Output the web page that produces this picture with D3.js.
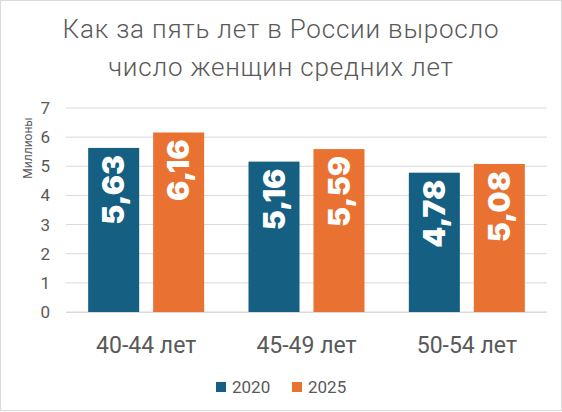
<!DOCTYPE html>
<html><head><meta charset="utf-8">
<script src="https://cdn.jsdelivr.net/npm/d3@7"></script>
<style>body{margin:0;background:#fff}svg{display:block}</style>
</head><body>
<svg id="c" width="562" height="412"></svg>
<script>
const titleLines = ["Как за пять лет в России выросло", "число женщин средних лет"];
const categories = ["40-44 лет", "45-49 лет", "50-54 лет"];
const seriesNames = ["2020", "2025"];
const values2020 = [5.63, 5.16, 4.78];
const values2025 = [6.16, 5.59, 5.08];
const yTicks = [0, 1, 2, 3, 4, 5, 6, 7];
const yTitle = "Миллионы";
const colors = ["#156082", "#E97132"];

const series = [values2020, values2025];
const svg = d3.select("#c");
const font = "Roboto, 'Open Sans', sans-serif";
const gray = "#595959";

svg.append("rect").attr("x",0.5).attr("y",0.5).attr("width",561).attr("height",410)
  .attr("fill","#fff").attr("stroke","#d9d9d9");

svg.append("g").selectAll("text").data(titleLines).join("text")
  .attr("x",281).attr("y",(d,i)=>38+i*38).attr("text-anchor","middle")
  .attr("font-family",font).attr("font-weight",300).attr("font-size",26)
  .attr("letter-spacing",0.8)
  .attr("fill",gray).text(d=>d);

const x0 = d3.scaleBand().domain(categories).range([66,547]).padding(0);
const x1 = d3.scaleBand().domain(seriesNames).range([0,x0.bandwidth()])
  .paddingInner(0.215).paddingOuter(0.341);
const y = d3.scaleLinear().domain([0,7]).range([312,108]);

// gridlines
svg.append("g").selectAll("line").data(yTicks).join("line")
  .attr("x1",66).attr("x2",547).attr("y1",d=>y(d)).attr("y2",d=>y(d))
  .attr("stroke","#d9d9d9").attr("stroke-width",1);

// y axis labels
const yAxis = d3.axisLeft(y).tickValues(yTicks).tickSize(0).tickPadding(0).tickFormat(d3.format("d"));
const ya = svg.append("g").attr("transform","translate(50,0)").call(yAxis);
ya.select(".domain").remove();
ya.selectAll("text").attr("font-family",font).attr("font-size",17).attr("fill",gray);

svg.append("text").attr("transform","translate(32,148) rotate(-90)")
  .attr("text-anchor","middle").attr("font-family",font).attr("font-size",12)
  .attr("fill",gray).text(yTitle);

// bars
const groups = svg.append("g").selectAll("g").data(categories).join("g")
  .attr("transform",d=>`translate(${x0(d)},0)`);
groups.each(function(cat, ci){
  const g = d3.select(this);
  seriesNames.forEach((s, si) => {
    const v = series[si][ci];
    g.append("rect").attr("x",x1(s)).attr("width",x1.bandwidth())
      .attr("y",y(v)).attr("height",y(0)-y(v)).attr("fill",colors[si]);
    const cx = x1(s)+x1.bandwidth()/2;
    g.append("text").attr("transform",`translate(${cx},${y(v)+7}) rotate(-90)`)
      .attr("text-anchor","end").attr("dy","0.36em")
      .attr("font-family","Inter, sans-serif").attr("font-weight",900).attr("font-size",30)
      .attr("fill","#fff").text(d3.format(".2f")(v).replace(".",","));
  });
});

// x axis line
svg.append("line").attr("x1",66).attr("x2",547).attr("y1",312.5).attr("y2",312.5)
  .attr("stroke","#d9d9d9");

// x labels
const xAxis = d3.axisBottom(x0).tickSize(0).tickPadding(0);
const xa = svg.append("g").attr("transform","translate(0,353)").call(xAxis);
xa.select(".domain").remove();
xa.selectAll("text").attr("dy",0).attr("font-family",font).attr("font-size",23).attr("fill",gray);

// legend
const legend = svg.append("g");
const legX = [216, 292];
seriesNames.forEach((s,i)=>{
  legend.append("rect").attr("x",legX[i]).attr("y",382).attr("width",10).attr("height",10).attr("fill",colors[i]);
  legend.append("text").attr("x",legX[i]+16).attr("y",393).attr("font-family",font)
    .attr("font-size",17).attr("fill",gray).text(s);
});
</script>
</body></html>
